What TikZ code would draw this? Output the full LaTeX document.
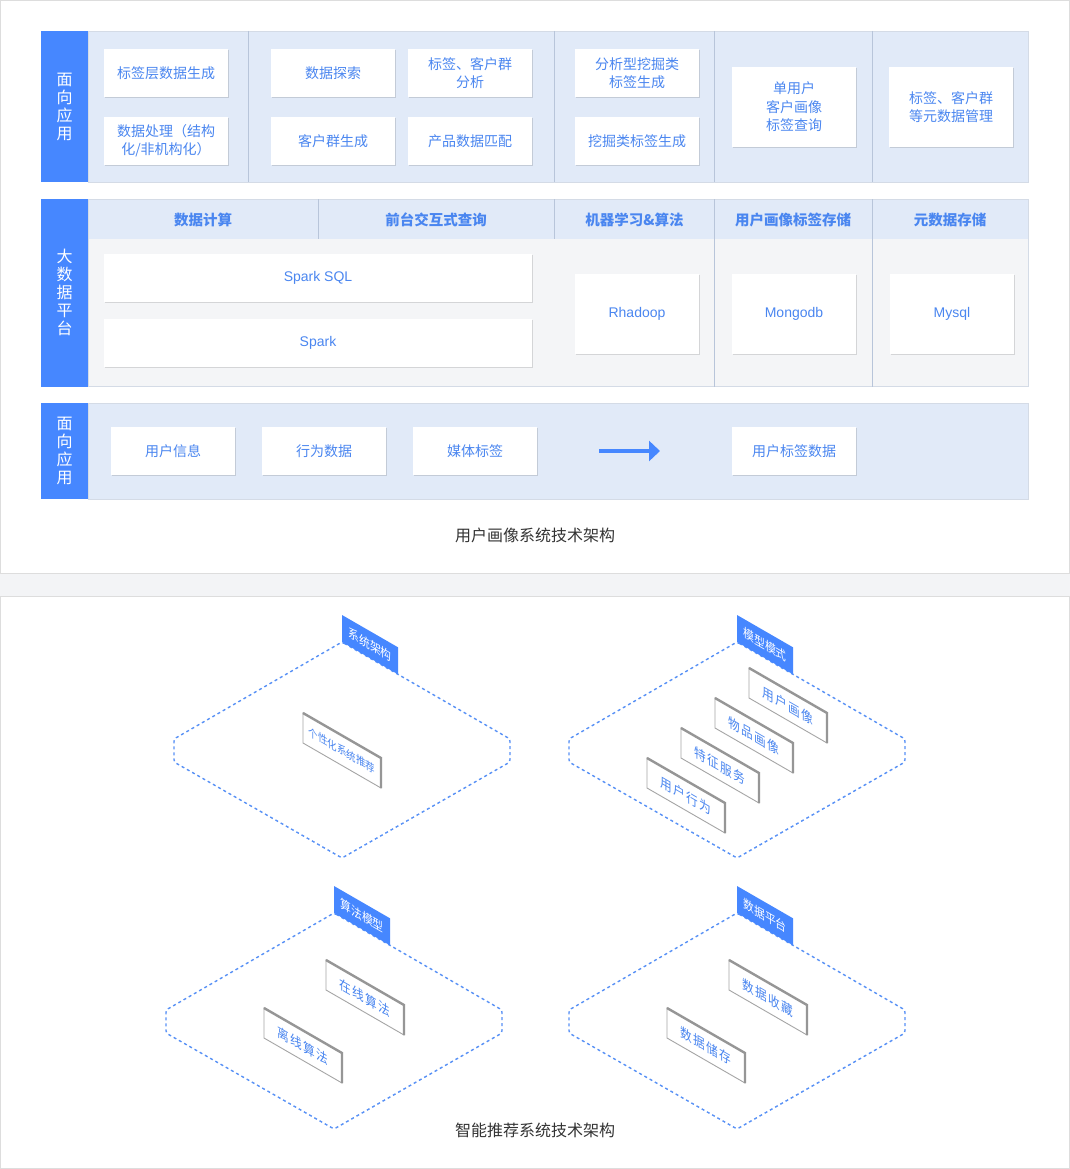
\documentclass[tikz,border=0pt]{standalone}
\usepackage{fontspec}
\newfontfamily\cjk{Noto Sans CJK SC}
\newfontfamily\lat{Liberation Sans}
\usetikzlibrary{shadows,arrows.meta}
\definecolor{barblue}{RGB}{70,135,255}
\definecolor{rowblue}{RGB}{225,234,248}
\definecolor{rowgray}{RGB}{244,245,247}
\definecolor{sepc}{RGB}{184,197,218}
\definecolor{rowbd}{RGB}{212,219,230}
\definecolor{txtblue}{RGB}{74,134,240}
\definecolor{panelbd}{RGB}{221,221,221}
\definecolor{gapgray}{RGB}{243,244,246}
\definecolor{captc}{RGB}{51,51,51}
\definecolor{dashblue}{RGB}{88,145,246}
\definecolor{cardgray}{RGB}{165,165,165}
\definecolor{cardthk}{RGB}{150,150,150}
\tikzset{
  box/.style={fill=white, inner sep=0pt, outer sep=0pt, align=center, text=txtblue,
    font=\cjk\fontsize{14}{18.5}\selectfont,
    drop shadow={shadow xshift=0.6pt, shadow yshift=-1.4pt, opacity=0.13, fill=black}},
  latbox/.style={box, font=\lat\fontsize{14}{17}\selectfont},
  hdr/.style={text=txtblue, font=\cjk\bfseries\fontsize{14.5}{17}\selectfont, inner sep=0pt},
  bar/.style={fill=barblue, text=white, align=center, inner sep=0pt, outer sep=0pt,
    font=\cjk\fontsize{16}{18}\selectfont},
  capt/.style={text=captc, font=\cjk\fontsize{16}{18}\selectfont, inner sep=0pt},
  isodash/.style={draw=dashblue, line width=1.4pt, dash pattern=on 3pt off 3pt, rounded corners=2.5pt},
  isotext/.style={transform shape, cm={0.866,-0.5,0,1,(0,0)}, inner sep=0pt},
  tagtext/.style={isotext, text=white, font=\cjk\fontsize{12.5}{14}\selectfont},
  cardtext/.style={isotext, text=txtblue, font=\cjk\fontsize{13.5}{15}\selectfont},
  cardthin/.style={draw=cardgray, line width=0.9pt},
  cardthick/.style={draw=cardthk, line width=2.4pt},
  arrowline/.style={draw=barblue, line width=4pt, -{Triangle[length=11pt,width=20pt]}},
}
\newcommand\lsp{\hspace{1.5pt}}
% box from corner (x1,y1) to (x2,y2)
\newcommand\bx[7][box]{\node[#1, minimum width={#5-#3}, minimum height={#6-#4}] (#2) at ({(#3+#5)/2},{(#4+#6)/2}) {#7};}
% isometric card: left-top corner
\newcommand\isocard[5][cardtext]{%
  \fill[white] (#3,#4) -- ++(78,45) -- ++(0,30) -- ++(-78,-45) -- cycle;
  \draw[cardthin] (#3,#4) -- ++(78,45) -- ++(0,30) -- ++(-78,-45) -- cycle;
  \draw[cardthick] (#3,#4) -- ++(78,45) -- ++(0,30);
  \node[#1] (#2) at ({#3+39},{#4+37.5}) {#5};}
% isometric dashed diamond with tag; top vertex (Tx,Ty)
\newcommand\isodiamond[4]{%
  \draw[isodash] (#2,#3) -- ++(168,97) -- ++(0,23) -- ++(-168,96) -- ++(-168,-96) -- ++(0,-23) -- cycle;
  \fill[barblue] (#2,#3) -- ++(0,-27) -- ++(56,32.3) -- ++(0,27) -- cycle;
  \node[tagtext] (#1) at ({#2+28},{#3+2.6}) {#4};}
\begin{document}
\begin{tikzpicture}[x=1pt,y=-1pt]
\useasboundingbox (0,0) rectangle (1070,1169);
\fill[gapgray] (0,0) rectangle (1070,1169);
\draw[panelbd, fill=white] (0.5,0.5) rectangle (1069.5,573);
\draw[panelbd, fill=white] (0.5,596) rectangle (1069.5,1168.5);

% ---- row 1
\fill[rowblue] (88,31) rectangle (1028,182);
\draw[rowbd, line width=0.8pt] (88,31) rectangle (1028,182);
\foreach \x in {248,554.5,714.5,872} \draw[sepc, line width=1pt] (\x,31) -- (\x,182);
\node[bar, minimum width=47, minimum height=151] (l1) at (64.5,106.5) {面\\向\\应\\用};
\bx{b11}{104}{49}{228}{97}{标签层数据生成}
\bx{b12}{104}{117}{228}{165}{数据处理（结构\\化/非机构化）}
\bx{b21}{271}{49}{395}{97}{数据探索}
\bx{b22}{408}{49}{532}{97}{标签、客户群\\分析}
\bx{b23}{271}{117}{395}{165}{客户群生成}
\bx{b24}{408}{117}{532}{165}{产品数据匹配}
\bx{b31}{575}{49}{699}{97}{分析型挖掘类\\标签生成}
\bx{b32}{575}{117}{699}{165}{挖掘类标签生成}
\bx{b41}{732}{67}{856}{147}{单用户\\客户画像\\标签查询}
\bx{b51}{889}{67}{1013}{147}{标签、客户群\\等元数据管理}

% ---- row 2
\fill[rowgray] (88,199) rectangle (1028,386.5);
\fill[rowblue] (88,199) rectangle (1028,239);
\draw[rowbd, line width=0.8pt] (88,199) rectangle (1028,386.5);
\foreach \x in {318,554.5} \draw[sepc, line width=1pt] (\x,199) -- (\x,239);
\foreach \x in {714.5,872} \draw[sepc, line width=1pt] (\x,199) -- (\x,386.5);
\node[bar, minimum width=47, minimum height=187.5] (l2) at (64.5,292.75) {大\\数\\据\\平\\台};
\node[hdr] (h1) at (203,219.5) {数据计算};
\node[hdr] (h2) at (436,219.5) {前台交互式查询};
\node[hdr] (h3) at (634.5,219.5) {机器学习\&算法};
\node[hdr] (h4) at (793,219.5) {用户画像标签存储};
\node[hdr] (h5) at (950,219.5) {元数据存储};
\bx[latbox]{s1}{104}{254}{532}{302}{Spark SQL}
\bx[latbox]{s2}{104}{319}{532}{367}{Spark}
\bx[latbox]{s3}{575}{274}{699}{354}{Rhadoop}
\bx[latbox]{s4}{732}{274}{856}{354}{Mongodb}
\bx[latbox]{s5}{890}{274}{1014}{354}{Mysql}

% ---- row 3
\fill[rowblue] (88,403) rectangle (1028,499);
\draw[rowbd, line width=0.8pt] (88,403) rectangle (1028,499);
\node[bar, minimum width=47, minimum height=96] (l3) at (64.5,451) {面\\向\\应\\用};
\bx{u1}{111}{427}{235}{475}{用户信息}
\bx{u2}{262}{427}{386}{475}{行为数据}
\bx{u3}{413}{427}{537}{475}{媒体标签}
\bx{u4}{732}{427}{856}{475}{用户标签数据}
\coordinate (a1) at (599,451);
\coordinate (a2) at (660,451);
\draw[arrowline] (a1) -- (a2);

\node[capt] (cap1) at (535,535) {用户画像系统技术架构};

% ---- isometric part
\isodiamond{t1}{342}{642}{系统架构}
\isocard[cardtext, font=\cjk\fontsize{11}{13}\selectfont]{c11}{303}{713}{个性化系统推荐}

\isodiamond{t2}{737}{642}{模型模式}
\isocard{c21}{749}{668}{用\lsp 户\lsp 画\lsp 像}
\isocard{c22}{715}{698}{物\lsp 品\lsp 画\lsp 像}
\isocard{c23}{681}{728}{特\lsp 征\lsp 服\lsp 务}
\isocard{c24}{647}{758}{用\lsp 户\lsp 行\lsp 为}

\isodiamond{t3}{334}{913}{算法模型}
\isocard{c31}{326}{960}{在\lsp 线\lsp 算\lsp 法}
\isocard{c32}{264}{1008}{离\lsp 线\lsp 算\lsp 法}

\isodiamond{t4}{737}{913}{数据平台}
\isocard{c41}{729}{960}{数\lsp 据\lsp 收\lsp 藏}
\isocard{c42}{667}{1008}{数\lsp 据\lsp 储\lsp 存}

\node[capt] (cap2) at (535,1130) {智能推荐系统技术架构};
\end{tikzpicture}
\end{document}
